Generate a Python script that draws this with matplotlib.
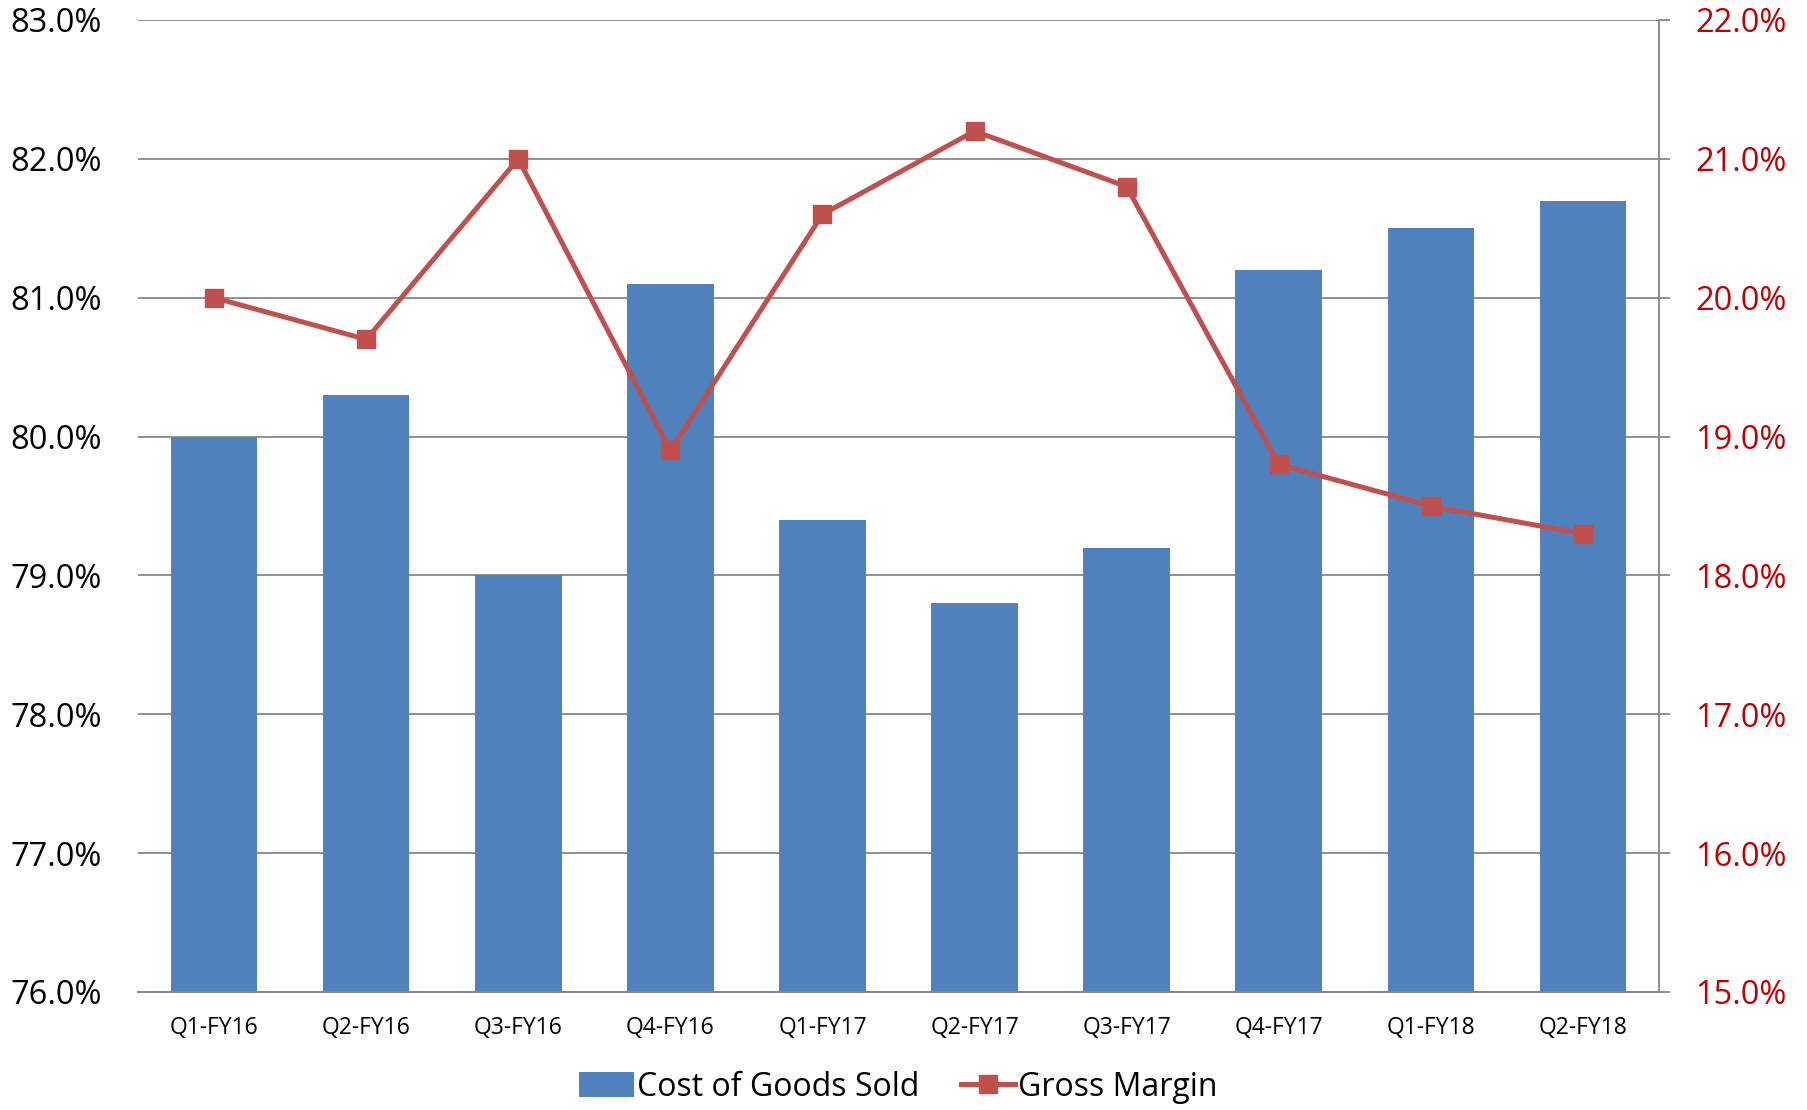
import matplotlib
matplotlib.use("Agg")
import matplotlib.pyplot as plt
from matplotlib.lines import Line2D
from matplotlib.patches import Patch
from matplotlib.ticker import FuncFormatter, MultipleLocator

quarters = ["Q1-FY16", "Q2-FY16", "Q3-FY16", "Q4-FY16", "Q1-FY17",
            "Q2-FY17", "Q3-FY17", "Q4-FY17", "Q1-FY18", "Q2-FY18"]
cogs = [80.0, 80.3, 79.0, 81.1, 79.4, 78.8, 79.2, 81.2, 81.5, 81.7]
gross_margin = [20.0, 19.7, 21.0, 18.9, 20.6, 21.2, 20.8, 18.8, 18.5, 18.3]

BAR = "#4F81BD"
LINE = "#C0504D"
RED_TXT = "#C00000"
GRID = "#878787"

plt.rcParams["font.family"] = ["Open Sans", "DejaVu Sans"]

fig = plt.figure(figsize=(18.08, 11.10), dpi=100)
ax = fig.add_axes([138 / 1808, 1 - 992 / 1110, (1659 - 138) / 1808, (992 - 20) / 1110])
ax2 = ax.twinx()

x = list(range(len(quarters)))
ax.bar(x, cogs, width=0.57, color=BAR, zorder=2)
ax.set_ylim(76, 83)
ax.set_xlim(-0.5, len(quarters) - 0.5)
ax.yaxis.set_major_locator(MultipleLocator(1))
ax.yaxis.set_major_formatter(FuncFormatter(lambda v, p: "%.1f%%" % v))
ax.grid(axis="y", color=GRID, linewidth=1.3, zorder=0)
ax.set_axisbelow(True)
ax.set_xticks(x)
ax.set_xticklabels(quarters)
ax.tick_params(axis="x", length=0, pad=17, labelsize=16.5, colors="#000000")
ax.tick_params(axis="y", length=0, pad=26, labelsize=23.5)

ax2.plot(x, gross_margin, color=LINE, linewidth=3.6, marker="s", markersize=13,
         markerfacecolor=LINE, markeredgecolor=LINE, zorder=3)
ax2.set_ylim(15, 22)
ax2.yaxis.set_major_locator(MultipleLocator(1))
ax2.yaxis.set_major_formatter(FuncFormatter(lambda v, p: "%.1f%%" % v))
ax2.tick_params(axis="y", length=8, width=1.3, color=GRID, pad=18,
                labelsize=23.5, labelcolor=RED_TXT)

for a in (ax, ax2):
    a.spines["top"].set_visible(False)
    a.spines["left"].set_visible(False)
    a.spines["right"].set_visible(False)
    a.spines["bottom"].set_color(GRID)
    a.spines["bottom"].set_linewidth(1.3)
ax2.spines["right"].set_visible(True)
ax2.spines["right"].set_color(GRID)
ax2.spines["right"].set_linewidth(1.3)

handles = [Patch(facecolor=BAR, edgecolor="none", label="Cost of Goods Sold"),
           Line2D([0], [0], color=LINE, linewidth=3.6, marker="s", markersize=13,
                  label="Gross Margin")]
fig.legend(handles=handles, loc="center", bbox_to_anchor=(0.497, 1 - 1087 / 1110),
           ncol=2, frameon=False, fontsize=23, handlelength=1.7, handleheight=0.8,
           handletextpad=0.1, columnspacing=1.3)

fig.savefig("out.png", dpi=100)
